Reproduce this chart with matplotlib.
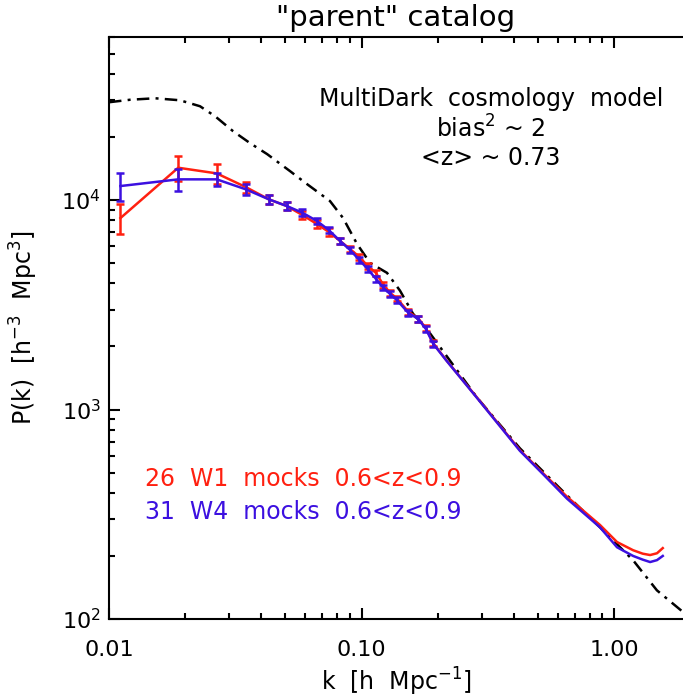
import matplotlib
matplotlib.use("Agg")
import matplotlib.pyplot as plt
from matplotlib.ticker import FixedLocator, FixedFormatter, LogLocator, NullFormatter

plt.rcParams["font.family"] = ["DejaVu Sans"]
plt.rcParams["mathtext.default"] = "regular"

# measured points with error bars (k in h/Mpc)
k_pts = [0.0111, 0.0188, 0.0267, 0.0348, 0.043, 0.0506, 0.0583, 0.0665, 0.0741,
         0.0822, 0.090, 0.098, 0.1057, 0.114, 0.122, 0.1297, 0.138, 0.1532,
         0.168, 0.18, 0.1925]
w1_pts = [8200, 14260, 13400, 11530, 10070, 9360, 8480, 7690, 7050,
          6380, 5840, 5355, 4850, 4490, 3940, 3610, 3390, 2930,
          2720, 2440, 2070]
w1_err = [1350, 2000, 1450, 700, 500, 420, 370, 320, 280,
          240, 210, 190, 170, 150, 130, 120, 110, 95,
          90, 80, 70]
w4_pts = [11660, 12550, 12550, 11250, 10070, 9360, 8700, 7950, 7200,
          6380, 5780, 5180, 4690, 4205, 3820, 3560, 3330, 2895,
          2700, 2420, 2055]
w4_err = [1750, 1450, 850, 650, 480, 400, 350, 300, 260,
          230, 200, 180, 160, 140, 120, 110, 100, 90,
          85, 75, 65]

# smooth continuation at small scales (no error bars)
k_tail = [0.2175, 0.286, 0.424, 0.523, 0.652, 0.880, 1.028, 1.19, 1.30, 1.39, 1.48, 1.56]
w1_tail = [1710, 1145, 640, 497, 383, 281, 233, 213, 205, 202, 206, 218]
w4_tail = [1705, 1140, 635, 492, 375, 274, 220, 200, 192, 187, 191, 200]

# MultiDark model
k_model = [0.0100, 0.01211, 0.01521, 0.0191, 0.02293, 0.0263, 0.0310, 0.0362, 0.0423,
           0.0521, 0.0608, 0.0750, 0.0845, 0.0960, 0.1081, 0.1262, 0.1421, 0.160,
           0.1834, 0.2241, 0.2867, 0.4243, 0.6515, 0.880, 1.189, 1.479, 1.876]
p_model = [29290, 30100, 30600, 29930, 28030, 25120, 21310, 18680, 16560,
           13740, 11920, 9890, 8210, 6170, 5010, 4490, 3690, 2865,
           2380, 1711, 1140, 652, 389, 274, 191, 137, 108]

red = "#ff2010"
blue = "#3c10e0"
lw = 1.8

fig = plt.figure(figsize=(6.83, 7.0), dpi=100)
ax = fig.add_axes([109 / 683, 1 - 619 / 700, 1 - 109 / 683, (619 - 37) / 700])

ax.plot(k_model, p_model, color="black", lw=lw, dashes=(5, 2.5, 1.2, 2.5))

ax.plot(k_pts + k_tail, w1_pts + w1_tail, color=red, lw=lw)
ax.errorbar(k_pts, w1_pts, yerr=w1_err, fmt="none", ecolor=red, elinewidth=lw,
            capsize=3, capthick=lw)
ax.plot(k_pts + k_tail, w4_pts + w4_tail, color=blue, lw=lw)
ax.errorbar(k_pts, w4_pts, yerr=w4_err, fmt="none", ecolor=blue, elinewidth=lw,
            capsize=3, capthick=lw)

ax.set_xscale("log")
ax.set_yscale("log")
ax.set_xlim(0.01, 1.876)
ax.set_ylim(100, 60000)

ax.xaxis.set_major_locator(FixedLocator([0.01, 0.1, 1.0]))
ax.xaxis.set_major_formatter(FixedFormatter(["0.01", "0.10", "1.00"]))
ax.xaxis.set_minor_locator(LogLocator(base=10, subs=range(2, 10)))
ax.xaxis.set_minor_formatter(NullFormatter())
ax.yaxis.set_major_locator(FixedLocator([100, 1000, 10000]))
ax.yaxis.set_major_formatter(FixedFormatter(["$10^2$", "$10^3$", "$10^4$"]))
ax.yaxis.set_minor_locator(LogLocator(base=10, subs=range(2, 10)))
ax.yaxis.set_minor_formatter(NullFormatter())

ax.tick_params(which="both", direction="in", top=True, right=False, width=1.5,
               labelsize=16)
ax.tick_params(which="major", length=8)
ax.tick_params(which="minor", length=4)
ax.tick_params(axis="x", pad=15)
ax.tick_params(axis="y", pad=6)
for side in ["left", "top", "bottom"]:
    ax.spines[side].set_linewidth(1.5)
ax.spines["right"].set_visible(False)

ax.set_title('"parent" catalog', fontsize=21, pad=8)
ax.set_xlabel("k  [h  Mpc$^{-1}$]", fontsize=17, labelpad=4)
ax.set_ylabel("P(k)  [h$^{-3}$  Mpc$^3$]", fontsize=17, va="center")
ax.yaxis.set_label_coords(-0.148, 0.5)

ax.text(0.665, 0.843, "MultiDark  cosmology  model\nbias$^2$ ~ 2\n<z> ~ 0.73",
        transform=ax.transAxes, ha="center", va="center", fontsize=17,
        linespacing=1.2, multialignment="center")
ax.text(0.063, 0.240, "26  W1  mocks  0.6<z<0.9", transform=ax.transAxes,
        color=red, fontsize=17, va="center")
ax.text(0.063, 0.183, "31  W4  mocks  0.6<z<0.9", transform=ax.transAxes,
        color=blue, fontsize=17, va="center")

fig.savefig("out.png", dpi=100)
